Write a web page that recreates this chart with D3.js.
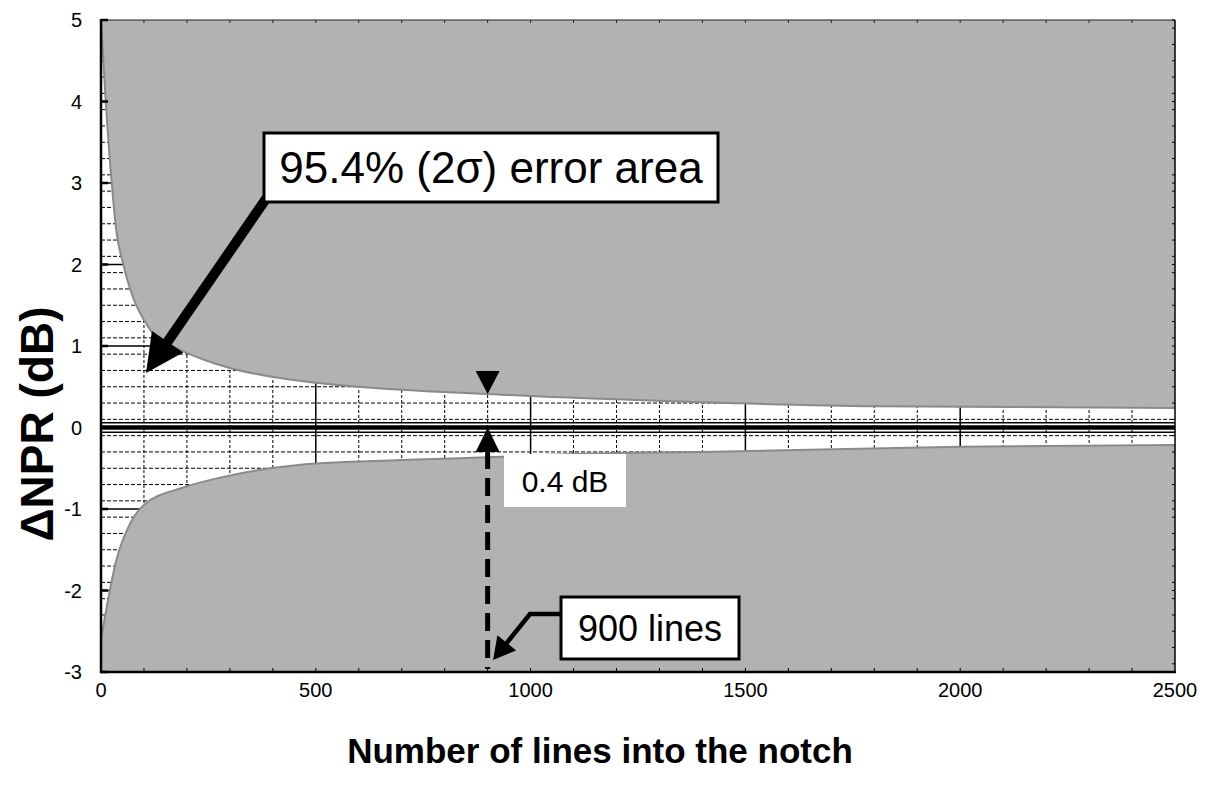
<!DOCTYPE html>
<html lang="en">
<head>
<meta charset="utf-8">
<script src="https://d3js.org/d3.v7.min.js"></script>
<style>
body { margin: 0; background: #fff; }
text { font-family: Arial, "Liberation Sans", sans-serif; fill: #000; }
</style>
</head>
<body>
<svg width="1213" height="789"></svg>
<script>
// upper and lower 2-sigma bounds
var upperN  = [0, 11, 25, 36, 52, 75, 100, 130, 185, 300, 400, 500, 900, 1400, 1800, 2500];
var upperDb = [5.0, 4.0, 3.0, 2.4, 2.0, 1.59, 1.32, 1.1, 0.95, 0.73, 0.62, 0.55, 0.41, 0.31, 0.26, 0.24];
var lowerN  = [0, 37, 64, 100, 190, 290, 460, 700, 930, 1130, 1400, 2000, 2500];
var lowerDb = [-2.6, -1.6, -1.22, -0.95, -0.74, -0.60, -0.46, -0.40, -0.36, -0.32, -0.30, -0.235, -0.215];
var xTicks = [0, 500, 1000, 1500, 2000, 2500];
var yTicks = [-3, -2, -1, 0, 1, 2, 3, 4, 5];
var markN = 900;

var svg = d3.select("svg");
var pL = 101, pR = 1175, pT = 20, pB = 672;

var x = d3.scaleLinear().domain([0, 2500]).range([pL, pR]);
var y = d3.scaleLinear().domain([-3, 5]).range([pB, pT]);

svg.append("defs").append("clipPath").attr("id", "plot")
  .append("rect").attr("x", pL).attr("y", pT)
  .attr("width", pR - pL).attr("height", pB - pT);

svg.append("rect").attr("x", pL).attr("y", pT)
  .attr("width", pR - pL).attr("height", pB - pT).attr("fill", "#fff");

// grid
var g = svg.append("g").attr("clip-path", "url(#plot)");
var minorX = d3.range(100, 2500, 100).filter(function(d) { return d % 500 != 0; });
var minorY = d3.range(-29, 50, 2).map(function(d) { return d / 10; }).filter(function(d) { return Math.abs(d - Math.round(d)) > 1e-6; });

g.selectAll(".vmin").data(minorX).enter().append("line")
  .attr("x1", function(d) { return x(d); }).attr("x2", function(d) { return x(d); })
  .attr("y1", pT).attr("y2", pB)
  .attr("stroke", "#000").attr("stroke-width", 1).attr("stroke-dasharray", "3,2");
g.selectAll(".hmin").data(minorY).enter().append("line")
  .attr("x1", pL).attr("x2", pR)
  .attr("y1", function(d) { return y(d); }).attr("y2", function(d) { return y(d); })
  .attr("stroke", "#000").attr("stroke-width", 1).attr("stroke-dasharray", "4,2");
g.selectAll(".vmaj").data(xTicks.slice(1, -1)).enter().append("line")
  .attr("x1", function(d) { return x(d); }).attr("x2", function(d) { return x(d); })
  .attr("y1", pT).attr("y2", pB)
  .attr("stroke", "#000").attr("stroke-width", 1.5);
g.selectAll(".hmaj").data(yTicks).enter().append("line")
  .attr("x1", pL).attr("x2", pR)
  .attr("y1", function(d) { return y(d); }).attr("y2", function(d) { return y(d); })
  .attr("stroke", "#000").attr("stroke-width", 1.5);

// error areas
var upper = upperN.map(function(n, i) { return [n, upperDb[i]]; });
var lower = lowerN.map(function(n, i) { return [n, lowerDb[i]]; });

var upArea = d3.area().curve(d3.curveMonotoneX)
  .x(function(d) { return x(d[0]); }).y0(y(5.2)).y1(function(d) { return y(d[1]); });
var loArea = d3.area().curve(d3.curveMonotoneX)
  .x(function(d) { return x(d[0]); }).y0(y(-3.2)).y1(function(d) { return y(d[1]); });
var edge = d3.line().curve(d3.curveMonotoneX)
  .x(function(d) { return x(d[0]); }).y(function(d) { return y(d[1]); });

g.append("path").attr("d", upArea(upper)).attr("fill", "#b2b2b2");
g.append("path").attr("d", loArea(lower)).attr("fill", "#b2b2b2");
g.append("path").attr("d", edge(upper)).attr("fill", "none").attr("stroke", "#8a8a8a").attr("stroke-width", 2);
g.append("path").attr("d", edge(lower)).attr("fill", "none").attr("stroke", "#8a8a8a").attr("stroke-width", 2);

// zero line band
[0.058, -0.058].forEach(function(v) {
  g.append("line").attr("x1", pL).attr("x2", pR).attr("y1", y(v)).attr("y2", y(v))
    .attr("stroke", "#000").attr("stroke-width", 1.5);
});
g.append("line").attr("x1", pL).attr("x2", pR).attr("y1", y(0)).attr("y2", y(0))
  .attr("stroke", "#000").attr("stroke-width", 4.5);

// frame and ticks
svg.append("line").attr("x1", pL).attr("x2", pR).attr("y1", pT).attr("y2", pT).attr("stroke", "#222").attr("stroke-width", 1.2);
svg.append("line").attr("x1", pR).attr("x2", pR).attr("y1", pT).attr("y2", pB).attr("stroke", "#000").attr("stroke-width", 1.5);
svg.append("line").attr("x1", pL).attr("x2", pL).attr("y1", pT - 1).attr("y2", pB + 1).attr("stroke", "#000").attr("stroke-width", 2.5);
svg.append("line").attr("x1", pL - 1).attr("x2", pR + 1).attr("y1", pB).attr("y2", pB).attr("stroke", "#000").attr("stroke-width", 2.5);

var hTicks = d3.range(100, 2500, 100);
svg.selectAll(".tt").data(hTicks).enter().append("line")
  .attr("x1", function(d) { return x(d); }).attr("x2", function(d) { return x(d); })
  .attr("y1", pT).attr("y2", pT + 3).attr("stroke", "#222").attr("stroke-width", 1);
svg.selectAll(".bt").data(hTicks).enter().append("line")
  .attr("x1", function(d) { return x(d); }).attr("x2", function(d) { return x(d); })
  .attr("y1", pB).attr("y2", pB - 4).attr("stroke", "#000").attr("stroke-width", 1);
svg.selectAll(".rt").data(minorY.concat(yTicks)).enter().append("line")
  .attr("x1", pR).attr("x2", pR - 3)
  .attr("y1", function(d) { return y(d); }).attr("y2", function(d) { return y(d); })
  .attr("stroke", "#000").attr("stroke-width", 1);
svg.selectAll(".lt").data(yTicks).enter().append("line")
  .attr("x1", pL).attr("x2", pL + 7)
  .attr("y1", function(d) { return y(d); }).attr("y2", function(d) { return y(d); })
  .attr("stroke", "#000").attr("stroke-width", 2.5);

// tick labels
svg.selectAll(".xl").data(xTicks).enter().append("text")
  .attr("x", function(d) { return x(d); }).attr("y", 697)
  .attr("text-anchor", "middle").attr("font-size", 20).text(function(d) { return d; });
svg.selectAll(".yl").data(yTicks).enter().append("text")
  .attr("x", 82).attr("y", function(d) { return y(d); }).attr("dy", "0.35em")
  .attr("text-anchor", "end").attr("font-size", 20).text(function(d) { return d; });

// axis titles
svg.append("text").attr("x", 600).attr("y", 763).attr("text-anchor", "middle")
  .attr("font-size", 35).attr("font-weight", "bold").text("Number of lines into the notch");
svg.append("text").attr("transform", "translate(37,424) rotate(-90)")
  .attr("text-anchor", "middle").attr("dy", "0.35em")
  .attr("font-size", 46).attr("font-weight", "bold").text("\u0394NPR (dB)");

// annotations
function arrow(pts, w, headLen, headHalf) {
  var n = pts.length;
  var tip = pts[n - 1], prev = pts[n - 2];
  var dx = tip[0] - prev[0], dy = tip[1] - prev[1];
  var len = Math.sqrt(dx * dx + dy * dy);
  var ux = dx / len, uy = dy / len;
  var bx = tip[0] - ux * headLen, by = tip[1] - uy * headLen;
  var shaft = pts.slice(0, n - 1).concat([[bx + ux * 2, by + uy * 2]]);
  svg.append("path").attr("d", d3.line()(shaft)).attr("fill", "none")
    .attr("stroke", "#000").attr("stroke-width", w).attr("stroke-linejoin", "miter");
  svg.append("path").attr("d", d3.line()([tip, [bx - uy * headHalf, by + ux * headHalf], [bx + uy * headHalf, by - ux * headHalf]]) + "Z")
    .attr("fill", "#000");
}

arrow([[268, 196], [146, 373]], 10, 38, 19);
svg.append("rect").attr("x", 264).attr("y", 133).attr("width", 454).attr("height", 69)
  .attr("fill", "#fff").attr("stroke", "#000").attr("stroke-width", 3);
svg.append("text").attr("x", 491).attr("y", 168).attr("dy", "0.35em").attr("text-anchor", "middle")
  .attr("font-size", 44).text("95.4% (2\u03c3) error area");

// 900 lines markers
var xm = x(markN);
svg.append("path").attr("d", d3.line()([[xm - 12, 371], [xm + 12, 371], [xm, y(upperDb[12])]]) + "Z").attr("fill", "#000");
svg.append("path").attr("d", d3.line()([[xm - 12, 452], [xm + 12, 452], [xm, y(0)]]) + "Z").attr("fill", "#000");
svg.append("line").attr("x1", xm).attr("x2", xm).attr("y1", 451).attr("y2", 669)
  .attr("stroke", "#000").attr("stroke-width", 5).attr("stroke-dasharray", "18,9");

svg.append("rect").attr("x", 504).attr("y", 454).attr("width", 122).attr("height", 53).attr("fill", "#fff");
svg.append("text").attr("x", 565).attr("y", 481).attr("dy", "0.35em").attr("text-anchor", "middle")
  .attr("font-size", 30).text("0.4 dB");

arrow([[562, 614], [530, 614], [493, 660]], 4.5, 22, 12);
svg.append("rect").attr("x", 561).attr("y", 597).attr("width", 178).attr("height", 62)
  .attr("fill", "#fff").attr("stroke", "#000").attr("stroke-width", 3);
svg.append("text").attr("x", 650).attr("y", 628).attr("dy", "0.35em").attr("text-anchor", "middle")
  .attr("font-size", 36).text("900 lines");
</script>
</body>
</html>
